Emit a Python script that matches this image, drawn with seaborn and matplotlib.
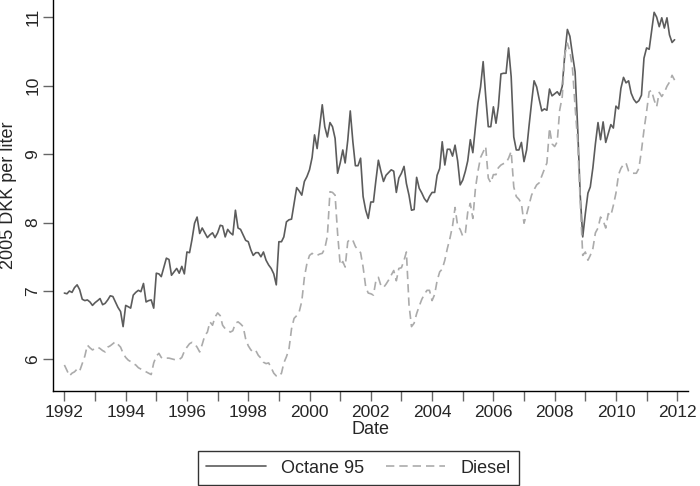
import numpy as np
import pandas as pd
import seaborn as sns
import matplotlib.pyplot as plt

# monthly prices, Jan 1992 - Dec 2011 (2005 DKK per liter)
octane95 = [
    6.97, 6.96, 7.00, 6.98, 7.05, 7.09, 7.02, 6.88, 6.86, 6.87, 6.84, 6.79,  # 1992
    6.83, 6.86, 6.89, 6.80, 6.82, 6.87, 6.93, 6.92, 6.84, 6.76, 6.70, 6.48,  # 1993
    6.79, 6.77, 6.75, 6.94, 6.98, 7.01, 6.99, 7.11, 6.84, 6.86, 6.87, 6.75,  # 1994
    7.26, 7.25, 7.21, 7.35, 7.48, 7.46, 7.23, 7.28, 7.33, 7.26, 7.36, 7.25,  # 1995
    7.57, 7.56, 7.75, 7.99, 8.08, 7.84, 7.92, 7.85, 7.78, 7.82, 7.85, 7.78,  # 1996
    7.85, 7.96, 7.95, 7.79, 7.90, 7.85, 7.82, 8.18, 7.92, 7.90, 7.82, 7.74,  # 1997
    7.72, 7.60, 7.52, 7.56, 7.56, 7.50, 7.57, 7.45, 7.38, 7.33, 7.25, 7.09,  # 1998
    7.72, 7.72, 7.79, 8.01, 8.04, 8.05, 8.28, 8.51, 8.46, 8.40, 8.60, 8.67,  # 1999
    8.77, 8.95, 9.28, 9.08, 9.40, 9.72, 9.40, 9.25, 9.46, 9.40, 9.23, 8.72,  # 2000
    8.87, 9.06, 8.87, 9.20, 9.63, 9.18, 8.83, 8.83, 8.94, 8.38, 8.18, 8.06,  # 2001
    8.30, 8.30, 8.60, 8.91, 8.75, 8.60, 8.69, 8.73, 8.77, 8.75, 8.44, 8.65,  # 2002
    8.72, 8.82, 8.57, 8.40, 8.18, 8.19, 8.66, 8.50, 8.43, 8.35, 8.30, 8.38,  # 2003
    8.44, 8.44, 8.69, 8.79, 9.18, 8.84, 9.07, 9.07, 8.97, 9.13, 8.90, 8.55,  # 2004
    8.62, 8.75, 8.90, 9.21, 9.02, 9.40, 9.75, 9.98, 10.35, 9.85, 9.40, 9.40,  # 2005
    9.69, 9.45, 9.69, 10.17, 10.18, 10.18, 10.55, 10.13, 9.25, 9.06, 9.06, 9.17,  # 2006
    8.89, 9.06, 9.40, 9.75, 10.07, 9.98, 9.80, 9.63, 9.66, 9.64, 9.95, 9.85,  # 2007
    9.88, 9.91, 9.86, 9.99, 10.45, 10.82, 10.72, 10.45, 10.20, 9.40, 8.40, 7.79,  # 2008
    8.13, 8.43, 8.52, 8.80, 9.15, 9.46, 9.21, 9.47, 9.17, 9.30, 9.43, 9.38,  # 2009
    9.70, 9.66, 9.96, 10.12, 10.04, 10.07, 9.89, 9.80, 9.75, 9.78, 9.86, 10.40,  # 2010
    10.55, 10.53, 10.79, 11.07, 11.00, 10.86, 10.99, 10.84, 10.99, 10.74, 10.63, 10.67,  # 2011
]

diesel = [
    5.92, 5.84, 5.76, 5.80, 5.82, 5.86, 5.83, 5.94, 6.05, 6.21, 6.17, 6.14,  # 1992
    6.16, 6.18, 6.16, 6.13, 6.11, 6.18, 6.20, 6.23, 6.26, 6.22, 6.18, 6.09,  # 1993
    6.03, 5.99, 5.97, 5.94, 5.92, 5.88, 5.86, 5.84, 5.82, 5.80, 5.78, 5.95,  # 1994
    6.05, 6.09, 6.03, 6.01, 6.02, 6.02, 6.01, 6.00, 5.99, 6.00, 6.03, 6.12,  # 1995
    6.18, 6.23, 6.25, 6.23, 6.18, 6.11, 6.22, 6.35, 6.40, 6.55, 6.50, 6.62,  # 1996
    6.68, 6.64, 6.50, 6.45, 6.43, 6.40, 6.42, 6.53, 6.55, 6.52, 6.48, 6.30,  # 1997
    6.20, 6.14, 6.11, 6.13, 6.06, 6.02, 5.96, 5.94, 5.95, 5.88, 5.80, 5.76,  # 1998
    5.75, 5.80, 5.95, 6.04, 6.15, 6.45, 6.60, 6.64, 6.70, 6.85, 7.20, 7.40,  # 1999
    7.52, 7.55, 7.52, 7.52, 7.54, 7.55, 7.62, 7.80, 8.45, 8.44, 8.40, 7.84,  # 2000
    7.38, 7.43, 7.35, 7.72, 7.76, 7.74, 7.65, 7.60, 7.56, 7.35, 7.06, 6.97,  # 2001
    6.96, 6.94, 7.14, 7.20, 7.08, 7.05, 7.10, 7.16, 7.23, 7.30, 7.15, 7.33,  # 2002
    7.34, 7.45, 7.57, 6.80, 6.48, 6.53, 6.67, 6.78, 6.88, 6.95, 7.01, 7.01,  # 2003
    6.86, 6.95, 7.15, 7.28, 7.32, 7.45, 7.62, 7.77, 7.95, 8.22, 7.95, 7.90,  # 2004
    7.80, 7.85, 8.15, 8.28, 8.06, 8.50, 8.75, 8.95, 9.03, 9.11, 8.65, 8.58,  # 2005
    8.70, 8.70, 8.80, 8.84, 8.86, 8.87, 8.94, 9.04, 8.52, 8.38, 8.34, 8.28,  # 2006
    7.99, 8.12, 8.25, 8.40, 8.48, 8.55, 8.58, 8.68, 8.78, 8.87, 9.38, 9.15,  # 2007
    9.11, 9.18, 9.64, 9.84, 10.45, 10.62, 10.50, 10.25, 9.69, 9.20, 8.30, 7.52,  # 2008
    7.57, 7.45, 7.52, 7.62, 7.85, 7.92, 8.08, 8.03, 7.92, 8.13, 8.10, 8.25,  # 2009
    8.43, 8.70, 8.79, 8.85, 8.87, 8.75, 8.72, 8.72, 8.72, 8.79, 9.05, 9.35,  # 2010
    9.62, 9.91, 9.93, 9.79, 9.69, 9.90, 9.84, 9.90, 9.99, 10.05, 10.15, 10.08,  # 2011
]

dates = pd.date_range("1992-01-01", periods=len(octane95), freq="MS")
df = pd.DataFrame({"Date": dates, "Octane 95": octane95, "Diesel": diesel})

sns.set_style("white")
plt.rcParams["font.family"] = ["Liberation Sans", "DejaVu Sans"]
plt.rcParams["font.size"] = 13

fig = plt.figure(figsize=(7, 4.86), dpi=100)
ax = fig.add_axes([0.0753, 0.1955, 0.9077, 0.8045])

sns.lineplot(data=df, x="Date", y="Octane 95", ax=ax, color="#5c5c5c",
             linewidth=1.2, label="Octane 95")
sns.lineplot(data=df, x="Date", y="Diesel", ax=ax, color="#ababab",
             linewidth=1.2, dashes=False, label="Diesel")
ax.lines[1].set_dashes((5, 3))

ax.set_xlim(pd.Timestamp("1991-08-15"), pd.Timestamp("2012-05-10"))
ax.set_ylim(5.54, 11.25)

years = list(range(1992, 2013))
ax.set_xticks([pd.Timestamp(y, 1, 1) for y in years])
ax.set_xticklabels([str(y) if y % 2 == 0 else "" for y in years])
ax.set_yticks([6, 7, 8, 9, 10, 11])
ax.set_yticklabels(["6", "7", "8", "9", "10", "11"], rotation=90, va="center")

for side in ["top", "right"]:
    ax.spines[side].set_visible(False)
for side in ["left", "bottom"]:
    ax.spines[side].set_color("black")
    ax.spines[side].set_linewidth(1.0)
ax.tick_params(axis="both", direction="out", length=7, width=1.0,
               color="#666666", labelsize=12.5, pad=2,
               bottom=True, left=True)
ax.tick_params(axis="x", pad=3)

ax.set_xlabel("Date", fontsize=13, labelpad=1)
ax.set_ylabel("2005 DKK per liter", fontsize=13, labelpad=6)

ax.get_legend().remove()
handles, labels = ax.get_legend_handles_labels()
leg = fig.legend(handles, labels, loc="center", bbox_to_anchor=(0.512, 0.037),
                 ncol=2, frameon=True, fancybox=False, edgecolor="black",
                 handlelength=3.3, handletextpad=0.85, columnspacing=1.2,
                 borderpad=0.45, fontsize=13)
leg.get_frame().set_linewidth(1.0)

fig.savefig("out.png", dpi=100)
